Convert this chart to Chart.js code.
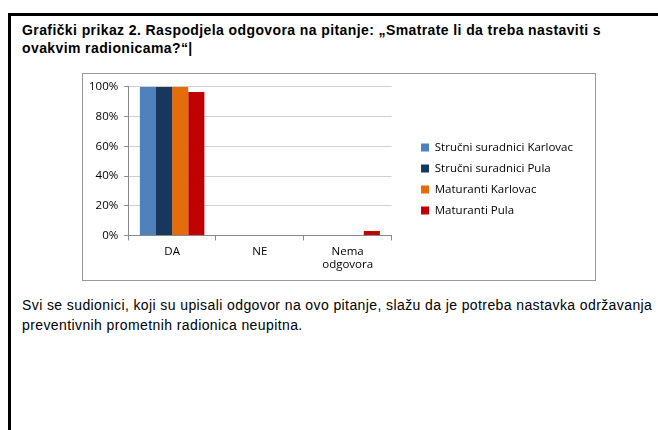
<!DOCTYPE html>
<html>
<head>
<meta charset="utf-8">
<script src="https://cdn.jsdelivr.net/npm/chart.js@4.4.1/dist/chart.umd.min.js"></script>
<style>
  html, body { margin: 0; padding: 0; background: #fff; }
  body { width: 658px; height: 430px; position: relative; overflow: hidden; font-family: "Liberation Sans", Arial, sans-serif; }
  .page { position: absolute; left: 8px; top: 13px; width: 700px; height: 500px; border-left: 3px solid #000; border-top: 3px solid #000; }
  .title { position: absolute; left: 22px; top: 21px; width: 600px; font-size: 14px; letter-spacing: 0.4px; font-weight: bold; line-height: 18px; color: #000; }
  .box { position: absolute; left: 82px; top: 73px; width: 512px; height: 206px; border: 1.5px solid #999; }
  .box canvas { position: absolute; left: 0; top: 0; }
  .body-text { position: absolute; left: 22px; top: 295px; width: 636px; font-size: 14px; letter-spacing: 0.4px; line-height: 20px; color: #000; }
</style>
</head>
<body>
<div class="page"></div>
<div class="title">Grafički prikaz 2. Raspodjela odgovora na pitanje: „Smatrate li da treba nastaviti s ovakvim radionicama?“|</div>
<div class="box"><canvas id="chart" width="512" height="206"></canvas></div>
<div class="body-text">Svi se sudionici, koji su upisali odgovor na ovo pitanje, slažu da je potreba nastavka održavanja preventivnih prometnih radionica neupitna.</div>
<script>
const categories = ["DA", "NE", ["Nema", "odgovora"]];
const seriesNames = ["Stručni suradnici Karlovac", "Stručni suradnici Pula", "Maturanti Karlovac", "Maturanti Pula"];
const strucniKarlovac = [100, 0, 0];
const strucniPula = [100, 0, 0];
const maturantiKarlovac = [100, 0, 0];
const maturantiPula = [96.5, 0, 3];
const colors = ["#4F81BD", "#17375E", "#E46C0A", "#C00000"];
const yTicks = [0, 20, 40, 60, 80, 100];

const values = [strucniKarlovac, strucniPula, maturantiKarlovac, maturantiPula];

// keep a gap between the plot and the legend, as in the original
const legendGap = {
  id: "legendGap",
  afterLayout(chart) {
    const shift = 20;
    chart.legend.left += shift;
    chart.legend.right += shift;
  }
};

const ctx = document.getElementById("chart").getContext("2d");
new Chart(ctx, {
  type: "bar",
  data: {
    labels: categories,
    datasets: seriesNames.map((name, i) => ({
      label: name,
      data: values[i],
      backgroundColor: colors[i],
      barPercentage: 1,
      categoryPercentage: 0.735
    }))
  },
  options: {
    responsive: false,
    animation: false,
    layout: { padding: { left: 0, top: 8, right: 32, bottom: 4 } },
    plugins: {
      tooltip: { enabled: false },
      legend: {
        position: "right",
        maxWidth: 300,
        labels: {
          boxWidth: 8,
          boxHeight: 8,
          padding: 9.5,
          color: "#000",
          font: { family: "Open Sans", size: 11.5 }
        }
      }
    },
    scales: {
      x: {
        grid: { drawOnChartArea: false, drawTicks: true, tickLength: 5, color: "#888" },
        border: { color: "#888" },
        ticks: { color: "#000", font: { family: "Open Sans", size: 11.5 }, padding: 4, maxRotation: 0 }
      },
      y: {
        min: 0,
        max: 100,
        afterBuildTicks: axis => { axis.ticks = yTicks.map(v => ({ value: v })); },
        grid: { color: "#d0d0d0", tickLength: 4, tickColor: "#888" },
        border: { color: "#888" },
        ticks: { color: "#000", font: { family: "Open Sans", size: 11.5 }, padding: 6, callback: v => v + "%" }
      }
    }
  },
  plugins: [legendGap]
});
</script>
</body>
</html>
